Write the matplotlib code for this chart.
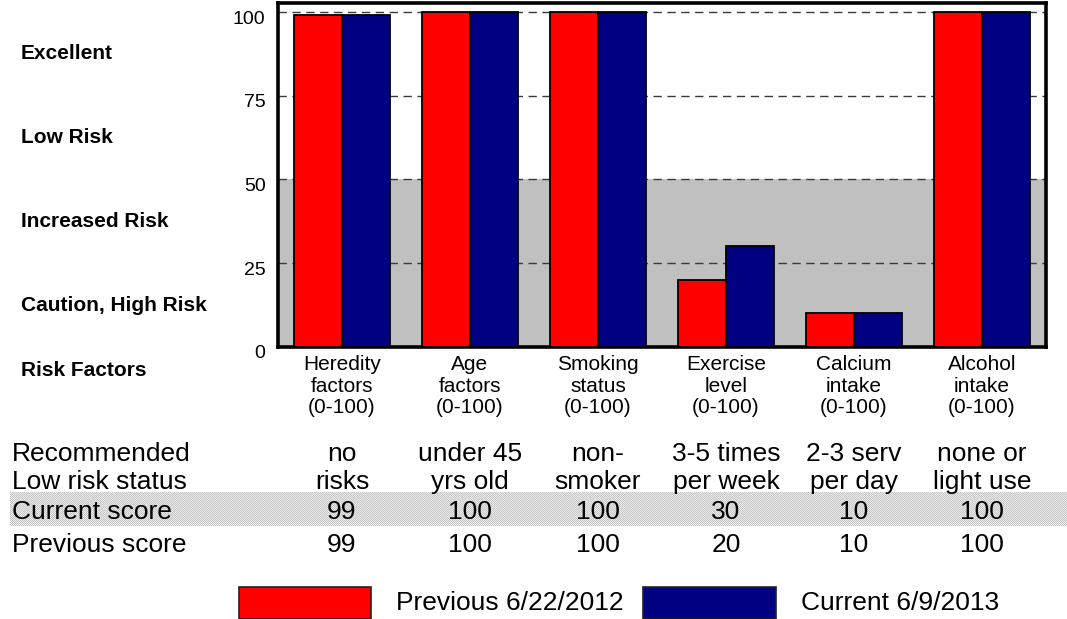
import numpy as np
import matplotlib
matplotlib.use("Agg")
import matplotlib.pyplot as plt
from matplotlib.patches import Rectangle
from matplotlib.transforms import blended_transform_factory, ScaledTranslation

# ---- data -------------------------------------------------------------
categories = ["Heredity\nfactors\n(0-100)", "Age\nfactors\n(0-100)",
              "Smoking\nstatus\n(0-100)", "Exercise\nlevel\n(0-100)",
              "Calcium\nintake\n(0-100)", "Alcohol\nintake\n(0-100)"]
recommended_top = ["no", "under 45", "non-", "3-5 times", "2-3 serv", "none or"]
recommended_bottom = ["risks", "yrs old", "smoker", "per week", "per day", "light use"]
previous_scores = [99, 100, 100, 20, 10, 100]
current_scores = [99, 100, 100, 30, 10, 100]
zone_labels = ["Excellent", "Low Risk", "Increased Risk", "Caution, High Risk"]
zone_centers = [87.5, 62.5, 37.5, 12.5]
y_ticks = [0, 25, 50, 75, 100]
previous_label = "Previous 6/22/2012"
current_label = "Current 6/9/2013"

RED = "#ff0000"
NAVY = "#000080"

plt.rcParams["font.family"] = ["Liberation Sans", "DejaVu Sans"]

W, H = 1067, 619
fig = plt.figure(figsize=(W / 100, H / 100), dpi=100)


def fx(px):
    return px / W


def fy(py):
    return 1 - py / H


# ---- main bar chart ---------------------------------------------------
ax = fig.add_axes([fx(278), fy(347), fx(1046) - fx(278), fy(3) - fy(347)])
x = np.arange(len(categories))
bw = 0.375

ax.axhspan(0, 50, color="#c0c0c0", lw=0, zorder=0)
ax.set_xlim(-0.5, len(categories) - 0.5)
ax.set_ylim(0, 100 * (347 - 3) / (347 - 12))
ax.set_yticks(y_ticks)
ax.yaxis.grid(True, linestyle=(0, (6, 4)), color="#3a3a3a", lw=1.0)
ax.set_axisbelow(True)

ax.bar(x - bw / 2, previous_scores, bw, color=RED, edgecolor="black",
       lw=1.3, zorder=3)
ax.bar(x + bw / 2, current_scores, bw, color=NAVY, edgecolor="black",
       lw=1.3, zorder=3)

for sp in ax.spines.values():
    sp.set_linewidth(2.6)
    sp.set_color("black")

ax.set_xticks(x, categories)
ax.tick_params(axis="both", length=0)
ax.tick_params(axis="y", labelsize=14, pad=9)
ax.tick_params(axis="x", labelsize=15, pad=6)
for lab in ax.get_xticklabels():
    lab.set_linespacing(1.17)
for lab in ax.get_yticklabels():
    lab.set_transform(lab.get_transform()
                      + ScaledTranslation(0, -5 / 100, fig.dpi_scale_trans))

# ---- zone labels on the left ------------------------------------------
zone_tr = blended_transform_factory(fig.transFigure, ax.transData)
for name, yc in zip(zone_labels, zone_centers):
    fig.text(fx(21), yc, name, transform=zone_tr, fontsize=15,
             fontweight="bold", va="center", ha="left")
fig.text(fx(21), fy(371), "Risk Factors", fontsize=15, fontweight="bold",
         va="center", ha="left")

# ---- table rows under the chart ---------------------------------------
band_ax = fig.add_axes([fx(10), fy(526), fx(1067) - fx(10), fy(492) - fy(526)])
rows, cols = 34, 1057
checker = ((np.arange(rows)[:, None] + np.arange(cols)[None, :]) % 2)
tex = np.where(checker[..., None] == 0, 0.78, 0.92) * np.ones(3)
band_ax.imshow(tex, interpolation="nearest", aspect="auto")
band_ax.set_axis_off()
band_ax.set_zorder(-1)

col_tr = blended_transform_factory(ax.transData, fig.transFigure)
TFS = 19
fig.text(fx(12), fy(461), "Recommended", fontsize=TFS, va="baseline")
fig.text(fx(12), fy(489), "Low risk status", fontsize=TFS, va="baseline")
fig.text(fx(12), fy(519), "Current score", fontsize=TFS, va="baseline")
fig.text(fx(12), fy(552), "Previous score", fontsize=TFS, va="baseline")
for xi, top, bot, cur, prev in zip(x, recommended_top, recommended_bottom,
                                   current_scores, previous_scores):
    fig.text(xi, fy(461), top, transform=col_tr, fontsize=TFS,
             ha="center", va="baseline")
    fig.text(xi, fy(489), bot, transform=col_tr, fontsize=TFS,
             ha="center", va="baseline")
    fig.text(xi, fy(519), str(cur), transform=col_tr, fontsize=TFS,
             ha="center", va="baseline")
    fig.text(xi, fy(552), str(prev), transform=col_tr, fontsize=TFS,
             ha="center", va="baseline")

# ---- legend -----------------------------------------------------------
for left, right, color, label, tx in [(239, 371, RED, previous_label, 396),
                                      (643, 776, NAVY, current_label, 801)]:
    fig.patches.append(Rectangle((fx(left), fy(619)), fx(right) - fx(left),
                                 fy(587) - fy(619), transform=fig.transFigure,
                                 facecolor=color, edgecolor="#222222", lw=1.2))
    fig.text(fx(tx), fy(603), label, fontsize=TFS, va="center", ha="left")

fig.savefig("out.png", dpi=100)
